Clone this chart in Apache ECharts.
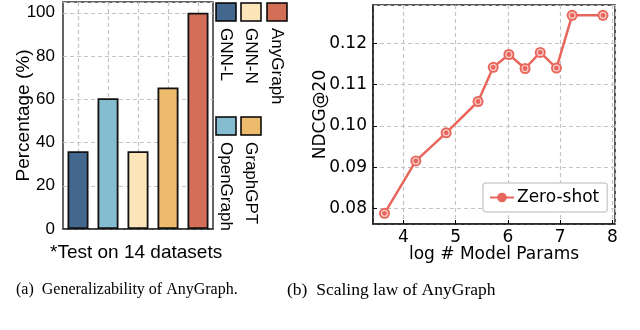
<!DOCTYPE html>
<html>
<head>
<meta charset="utf-8">
<script src="https://cdn.jsdelivr.net/npm/echarts@6/dist/echarts.min.js"></script>
<style>
  html, body { margin: 0; padding: 0; background: #fff; }
  #chart { width: 640px; height: 330px; }
</style>
</head>
<body>
<div id="chart"></div>
<script>
// (a) generalizability bars
const methods = ['GNN-L', 'OpenGraph', 'GNN-N', 'GraphGPT', 'AnyGraph']
const percentValues = [36, 60.5, 36, 65.5, 100]
const methodColors = ['#44678e', '#86bcd0', '#fce5b9', '#edbb6c', '#d36e58']
const percentTicks = [0, 20, 40, 60, 80, 100]

// (b) scaling law, log # params vs NDCG@20
const logParams = [3.64, 4.24, 4.82, 5.43, 5.72, 6.02, 6.33, 6.62, 6.93, 7.23, 7.82]
const zeroShotNdcg = [0.0788, 0.0915, 0.0983, 0.1059, 0.1142, 0.1173, 0.1139, 0.1178, 0.1140, 0.1268, 0.1268]

const chart = echarts.init(document.getElementById('chart'))

const dashed = { color: '#c4c4c4', type: [4, 3], width: 1.2 }
const gridLine = { show: true, lineStyle: dashed }
const sans = 'Liberation Sans'
const dejavu = 'DejaVu Sans'
const serif = 'Liberation Serif'
const red = '#e8675c'

// legend of (a) is rotated, so it is drawn by hand
const legendCells = [
  { name: 'GNN-L', x: 216, y: 3 },
  { name: 'GNN-N', x: 241, y: 3 },
  { name: 'AnyGraph', x: 267, y: 3 },
  { name: 'OpenGraph', x: 216, y: 117 },
  { name: 'GraphGPT', x: 241, y: 117 }
]
const legendGraphics = []
legendCells.forEach(cell => {
  const color = methodColors[methods.indexOf(cell.name)]
  legendGraphics.push({
    type: 'rect',
    shape: { x: cell.x, y: cell.y, width: 20, height: 18 },
    style: { fill: color, stroke: '#000', lineWidth: 1.5 }
  })
  legendGraphics.push({
    type: 'text',
    x: cell.x + 10,
    y: cell.y + 25,
    rotation: -Math.PI / 2,
    style: {
      text: cell.name,
      fontSize: 17,
      fontFamily: sans,
      fill: '#000',
      align: 'left',
      verticalAlign: 'middle',
      textAlign: 'left',
      textVerticalAlign: 'middle'
    }
  })
})

chart.setOption({
  animation: false,
  grid: [
    { left: 63, right: 427, top: 2, bottom: 101, show: true, borderColor: '#333', borderWidth: 1.5 },
    { left: 373, right: 25, top: 5, bottom: 106, show: true, borderColor: '#222', borderWidth: 1.5 }
  ],
  legend: {
    data: ['Zero-shot'],
    left: 483,
    top: 183,
    orient: 'vertical',
    padding: [6, 8, 6, 6],
    itemWidth: 24,
    itemHeight: 12,
    itemGap: 4,
    borderColor: '#d0d0d0',
    borderWidth: 1.5,
    borderRadius: 3,
    backgroundColor: '#fff',
    textStyle: { fontSize: 17, fontFamily: dejavu, color: '#000', padding: [0, 0, 0, -2] }
  },
  xAxis: [
    {
      gridIndex: 0,
      type: 'category',
      data: methods,
      axisLine: { lineStyle: { color: '#333', width: 1.5 } },
      axisTick: { show: false },
      axisLabel: { show: false },
      splitLine: { show: false }
    },
    {
      gridIndex: 1,
      type: 'value',
      min: 3.42,
      max: 8.05,
      name: 'log # Model Params',
      nameLocation: 'middle',
      nameGap: 22,
      nameMoveOverlap: false,
      nameTextStyle: { fontSize: 17, fontFamily: dejavu, color: '#000' },
      axisLine: { lineStyle: { color: '#222', width: 1.5 } },
      axisTick: { inside: true, length: 4, lineStyle: { color: '#000' } },
      axisLabel: {
        showMinLabel: false,
        showMaxLabel: false,
        margin: 5,
        fontSize: 17,
        fontFamily: dejavu,
        color: '#000'
      },
      splitLine: gridLine
    }
  ],
  yAxis: [
    {
      gridIndex: 0,
      type: 'value',
      min: percentTicks[0],
      max: 105,
      interval: 20,
      name: 'Percentage (%)',
      nameLocation: 'middle',
      nameGap: 30,
      nameMoveOverlap: false,
      nameTextStyle: { fontSize: 19, fontFamily: sans, color: '#000' },
      axisLine: { lineStyle: { color: '#333', width: 1.5 } },
      axisTick: { inside: true, length: 5, lineStyle: { color: '#000' } },
      axisLabel: {
        showMaxLabel: false,
        margin: 8,
        fontSize: 17,
        fontFamily: sans,
        color: '#000',
        formatter: v => (percentTicks.includes(v) ? String(v) : '')
      },
      splitLine: gridLine
    },
    {
      gridIndex: 1,
      type: 'value',
      min: 0.0762,
      max: 0.1293,
      name: 'NDCG@20',
      nameLocation: 'middle',
      nameGap: 44,
      nameMoveOverlap: false,
      nameTextStyle: { fontSize: 17, fontFamily: dejavu, color: '#000' },
      axisLine: { lineStyle: { color: '#222', width: 1.5 } },
      axisTick: { inside: true, length: 4, lineStyle: { color: '#000' } },
      axisLabel: {
        showMinLabel: false,
        showMaxLabel: false,
        margin: 6,
        fontSize: 17,
        fontFamily: dejavu,
        color: '#000',
        formatter: v => v.toFixed(2)
      },
      splitLine: gridLine
    }
  ],
  graphic: legendGraphics.concat([
    {
      type: 'text',
      x: 50,
      y: 253,
      style: { text: '*Test on 14 datasets', fontSize: 19, fontFamily: sans, fill: '#000', verticalAlign: 'middle', textVerticalAlign: 'middle' }
    },
    {
      type: 'text',
      x: 16,
      y: 290,
      style: { text: '(a)  Generalizability of AnyGraph.', fontSize: 16, fontFamily: serif, fill: '#000', verticalAlign: 'middle', textVerticalAlign: 'middle' }
    },
    {
      type: 'text',
      x: 287,
      y: 290,
      style: { text: '(b)  Scaling law of AnyGraph', fontSize: 17.5, fontFamily: serif, fill: '#000', verticalAlign: 'middle', textVerticalAlign: 'middle' }
    }
  ]),
  series: [
    {
      // vertical dashed grid of (a), through the bar centres
      name: 'category-grid',
      type: 'custom',
      xAxisIndex: 0,
      yAxisIndex: 0,
      silent: true,
      z: 1,
      encode: { x: 0, y: 1 },
      data: methods.map(m => [m, 0]),
      renderItem: (params, api) => {
        const cs = params.coordSys
        const x = Math.round(api.coord([api.value(0), 0])[0]) + 0.5
        return {
          type: 'line',
          shape: { x1: x, y1: cs.y, x2: x, y2: cs.y + cs.height },
          style: { stroke: dashed.color, lineWidth: dashed.width, lineDash: dashed.type }
        }
      }
    },
    {
      name: 'Percentage',
      type: 'bar',
      xAxisIndex: 0,
      yAxisIndex: 0,
      barWidth: '70%',
      barGap: '-100%',
      z: 2,
      data: percentValues.map((v, i) => ({
        value: v,
        itemStyle: { color: methodColors[i], borderColor: '#111', borderWidth: 1.8 }
      }))
    },
    {
      name: 'Zero-shot',
      type: 'line',
      xAxisIndex: 1,
      yAxisIndex: 1,
      data: logParams.map((x, i) => [x, zeroShotNdcg[i]]),
      symbol: 'circle',
      symbolSize: 11,
      lineStyle: { color: red, width: 2.5 },
      itemStyle: { color: red }
    },
    {
      // inner ring of the markers
      name: 'marker-ring',
      type: 'scatter',
      xAxisIndex: 1,
      yAxisIndex: 1,
      data: logParams.map((x, i) => [x, zeroShotNdcg[i]]),
      symbolSize: 6,
      itemStyle: { color: red, borderColor: 'rgba(255,255,255,0.85)', borderWidth: 1.2 },
      z: 3
    }
  ]
})
</script>
</body>
</html>
